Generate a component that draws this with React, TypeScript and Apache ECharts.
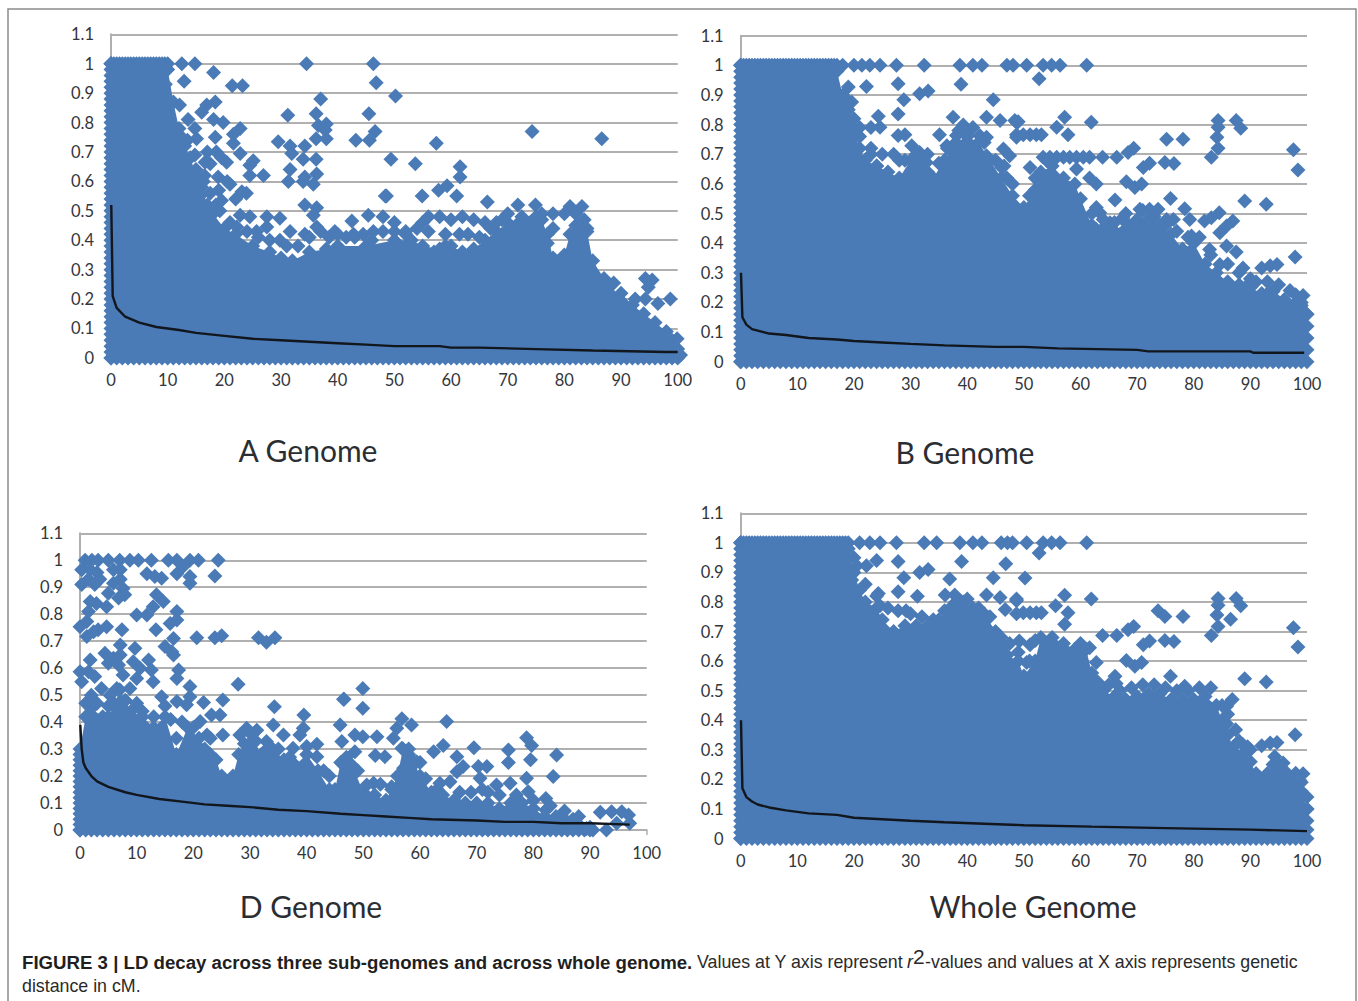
import React, { useEffect, useRef } from "react";
import * as echarts from "echarts";

const xTicks = { min: 0, max: 100, interval: 10 };
const yTicks = { min: 0, max: 1.1, interval: 0.1 };
const panelNames = ["A Genome", "B Genome", "D Genome", "Whole Genome"];

const fullLeftEdge = [0,0.02,0.04,0.06,0.08,0.1,0.12,0.14,0.16,0.18,0.2,0.22,0.24,0.26,0.28,0.3,0.32,0.34,0.36,0.38,0.4,0.42,0.44,0.46,0.48,0.5,0.52,0.54,0.56,0.58,0.6,0.62,0.64,0.66,0.68,0.7,0.72,0.74,0.76,0.78,0.8,0.82,0.84,0.86,0.88,0.9,0.92,0.94,0.96,0.98,1];
const shortLeftEdge = [0,0.02,0.04,0.06,0.08,0.1,0.12,0.14,0.16,0.18,0.2,0.22,0.24,0.26,0.28];
const bottomEdge = [0,1,2,3,4,5,6,7,8,9,10,11,12,13,14,15,16,17,18,19,20,21,22,23,24,25,26,27,28,29,30,31,32,33,34,35,36,37,38,39,40,41,42,43,44,45,46,47,48,49,50,51,52,53,54,55,56,57,58,59,60,61,62,63,64,65,66,67,68,69,70,71,72,73,74,75,76,77,78,79,80,81,82,83,84,85,86,87,88,89,90,91,92,93,94,95,96,97,98,99,100];
const topRow = [0,0.5,1,1.5,2,2.5,3,3.5,4,4.5,5,5.5,6,6.5,7,7.5,8,8.5,9,9.5,10,10.5,11,11.5,12,12.5,13,13.5,14,14.5,15,15.5,16,16.5,17,17.5,18,18.5,19];

const aSolid = [[0,1],[10,0.98],[11,0.87],[12,0.78],[13,0.72],[14,0.68],[15,0.62],[16,0.58],[17,0.52],[18,0.49],[20,0.44],[22,0.42],[25,0.38],[28,0.36],[30,0.34],[32,0.33],[35,0.36],[38,0.37],[40,0.38],[45,0.38],[50,0.4],[53,0.4],[55,0.38],[58,0.37],[60,0.38],[62,0.36],[64,0.37],[66,0.4],[68,0.43],[70,0.46],[72,0.46],[74,0.46],[76,0.47],[77,0.42],[78,0.34],[80,0.35],[81,0.42],[82,0.45],[84,0.43],[85,0.33],[87,0.27],[88,0.22],[90,0.22],[92,0.18],[94,0.15],[96,0.12],[98,0.09],[99,0.06],[100,0.03]];
const aOutliers = [[12.5,1],[14.8,1],[34.5,1],[46.3,1],[12.9,0.94],[9.6,0.93],[18.1,0.97],[21.4,0.925],[23.2,0.925],[46.8,0.935],[37,0.88],[12.1,0.86],[18.4,0.87],[16.9,0.86],[16,0.835],[31.2,0.825],[36.2,0.83],[45.5,0.83],[13.6,0.81],[18.1,0.81],[19.8,0.8],[36.6,0.79],[38,0.795],[22.8,0.78],[21.6,0.76],[14.8,0.78],[15.1,0.745],[18.4,0.75],[46.6,0.77],[37.8,0.775],[29.5,0.735],[36.2,0.745],[38,0.745],[43.2,0.74],[45.6,0.74],[21.6,0.73],[31.6,0.72],[34.2,0.72],[31.9,0.695],[22.8,0.695],[14.8,0.69],[18.6,0.7],[16.6,0.665],[20.4,0.665],[33.9,0.675],[36.2,0.675],[25.1,0.67],[24.5,0.655],[24.5,0.62],[26.9,0.62],[31.6,0.64],[34.2,0.615],[36.3,0.625],[16.3,0.6],[18.9,0.615],[21,0.59],[31.3,0.6],[33.9,0.6],[35.7,0.59],[23.1,0.565],[23.9,0.56],[48.4,0.55],[15.7,0.55],[19.5,0.535],[16.9,0.505],[19.2,0.5],[34.2,0.52],[36.3,0.51],[35.7,0.485],[27.5,0.48],[29.8,0.475],[45.4,0.485],[42.5,0.465],[22.8,0.485],[24.5,0.48],[27.5,0.445],[25.7,0.43],[22.2,0.445],[36.3,0.445],[39.5,0.43],[34.2,0.42],[31.6,0.43],[29.8,0.4],[42.8,0.42],[48,0.48],[46.3,0.43],[50.2,0.89],[49.4,0.675],[53.7,0.66],[57.4,0.73],[61.6,0.65],[61.6,0.615],[59.3,0.585],[57.8,0.57],[54.9,0.55],[61,0.55],[48.6,0.55],[66.4,0.53],[71.8,0.52],[74.9,0.52],[81,0.515],[83.1,0.515],[74.3,0.77],[86.6,0.745],[50,0.46],[52,0.42],[55,0.46],[56,0.48],[58,0.48],[60,0.47],[62,0.48],[64,0.47],[66,0.46],[67,0.44],[54,0.44],[56,0.43],[59,0.42],[61.5,0.42],[63,0.42],[65,0.41],[57,0.36],[59,0.38],[70,0.49],[72.5,0.48],[76,0.49],[78,0.49],[80,0.49],[82,0.49],[83.5,0.47],[84,0.44],[78,0.44],[77,0.39],[94.3,0.27],[95.5,0.265],[94.8,0.24],[98.7,0.2],[96.5,0.185],[94.3,0.2],[88.7,0.255],[87.2,0.235],[92.5,0.2],[99.9,0.065],[100.5,0.01],[26,0.41],[28,0.4],[31,0.38],[33,0.38],[35,0.41],[37,0.43],[38.5,0.41],[40,0.42],[41.5,0.41],[43,0.41],[44.5,0.42],[46,0.4],[48,0.43],[50,0.43],[52,0.43],[24,0.43],[21,0.46],[18.5,0.52],[17.5,0.56],[16.5,0.62],[15,0.64],[13.5,0.74],[12.5,0.75],[17,0.7],[19.5,0.68],[20.5,0.6],[22,0.54],[17.5,0.66],[19,0.57],[68,0.46],[69,0.47],[75,0.48],[73,0.46]];
const aCurve = [[0.05,0.52],[0.3,0.21],[1,0.17],[2.5,0.14],[5,0.12],[8,0.105],[12,0.095],[15,0.085],[20,0.075],[25,0.065],[30,0.06],[35,0.055],[40,0.05],[45,0.045],[50,0.04],[58,0.04],[60,0.035],[65,0.035],[75,0.03],[85,0.025],[98,0.02],[100,0.02]];

const bSolid = [[0,1],[17,0.98],[18,0.9],[19,0.85],[20,0.78],[21,0.72],[22,0.68],[24,0.66],[26,0.64],[28,0.62],[30,0.68],[32,0.68],[34,0.62],[36,0.68],[38,0.74],[40,0.76],[42,0.74],[44,0.68],[46,0.62],[48,0.56],[50,0.52],[52,0.58],[53,0.64],[55,0.66],[57,0.62],[59,0.6],[60,0.55],[62,0.46],[64,0.45],[66,0.44],[68,0.47],[70,0.48],[72,0.48],[74,0.46],[76,0.43],[78,0.38],[80,0.4],[82,0.33],[84,0.3],[86,0.27],[88,0.26],[90,0.25],[92,0.23],[94,0.24],[96,0.21],[98,0.2],[99,0.19],[100,0.16]];
const bOutliers = [[18,1],[20,1],[21.4,1],[22.8,1],[24.6,1],[27.5,1],[32.4,1],[38.7,1],[41,1],[42.6,1],[47,1],[48.1,1],[50.5,1],[53.4,1],[54.9,1],[56.4,1],[61.1,1],[52.7,0.955],[19,0.927],[22.2,0.929],[27.8,0.938],[38.9,0.936],[31.6,0.904],[33.1,0.913],[28.8,0.884],[44.6,0.884],[19.6,0.876],[24.3,0.828],[27.8,0.836],[37.5,0.825],[43.4,0.825],[45.8,0.814],[48.7,0.808],[39.3,0.799],[24.6,0.791],[21,0.79],[23,0.79],[27.8,0.763],[29,0.766],[35.1,0.766],[42.2,0.763],[43.4,0.757],[39.9,0.768],[48.7,0.757],[38.1,0.763],[36.4,0.729],[30.2,0.729],[31.6,0.706],[46.4,0.718],[47.5,0.695],[46.1,0.655],[43.4,0.695],[41.6,0.706],[32.8,0.672],[23,0.7],[25,0.7],[27,0.7],[29,0.68],[24,0.66],[33,0.64],[44,0.64],[48.4,0.814],[49,0.81],[57.2,0.825],[55.8,0.791],[57.8,0.766],[61.9,0.808],[48.7,0.766],[49.9,0.766],[51.1,0.766],[52.2,0.766],[53.1,0.766],[53.4,0.69],[54.6,0.69],[55.8,0.69],[57,0.69],[58.1,0.69],[59.3,0.69],[60.5,0.69],[61.6,0.69],[63.9,0.69],[66.4,0.69],[68.4,0.706],[69.4,0.72],[71.1,0.655],[72.2,0.67],[75.2,0.751],[78.1,0.751],[74.9,0.672],[76.5,0.669],[84.3,0.814],[84.3,0.791],[87.5,0.814],[88.3,0.788],[84.1,0.757],[84.3,0.72],[83.1,0.69],[97.6,0.715],[98.4,0.647],[89,0.542],[92.8,0.531],[75.9,0.551],[78.4,0.516],[66.1,0.546],[62.8,0.6],[61.6,0.62],[59.3,0.65],[51.1,0.655],[68.1,0.607],[69.6,0.588],[70.8,0.6],[62.8,0.52],[63.4,0.503],[70.5,0.514],[72.2,0.514],[73.7,0.514],[75.2,0.48],[76.4,0.48],[79.3,0.48],[81.9,0.475],[83.1,0.486],[84.5,0.503],[86.9,0.475],[85.8,0.458],[84.6,0.435],[67.5,0.486],[65.2,0.469],[62.8,0.446],[79.6,0.424],[85.8,0.39],[87.5,0.37],[82.8,0.379],[84.6,0.328],[88.7,0.316],[92,0.316],[93.5,0.324],[94.7,0.328],[97.9,0.353],[98,0.226],[99.3,0.223],[94,0.237],[92.8,0.226],[89.9,0.266],[87.9,0.226],[20,0.82],[19,0.88],[21,0.76],[23,0.72],[28,0.68],[31,0.7],[33,0.7],[35,0.67],[36.5,0.72],[38.5,0.78],[41,0.79],[43,0.74],[45,0.68],[46.5,0.66],[48,0.6],[47,0.62],[51,0.56],[52,0.62],[54,0.68],[62,0.5],[64,0.48],[66,0.47],[68,0.5],[71,0.51],[73,0.49],[75,0.46],[77,0.44],[79,0.42],[81,0.42],[83,0.36],[86,0.33],[88,0.3],[90,0.28],[91,0.27],[93,0.27],[95,0.26],[97,0.24],[99,0.2],[100,0.16],[100,0.12],[100,0.08],[100,0.04]];
const bCurve = [[0.05,0.3],[0.3,0.15],[1,0.125],[2,0.11],[3,0.105],[5,0.095],[8,0.09],[12,0.08],[17,0.075],[20,0.07],[25,0.065],[30,0.06],[36,0.055],[45,0.05],[50,0.05],[56,0.045],[70,0.04],[72,0.035],[90,0.035],[90.5,0.03],[99.5,0.03]];

const dSolid = [[0,0.3],[1,0.42],[2,0.45],[4,0.42],[5,0.42],[6,0.46],[7,0.52],[8,0.48],[9,0.44],[11,0.42],[13,0.38],[15,0.42],[17,0.28],[19,0.38],[21,0.34],[23,0.28],[24,0.26],[25,0.2],[27,0.2],[28,0.28],[30,0.36],[32,0.28],[34,0.3],[36,0.26],[38,0.24],[40,0.28],[42,0.22],[44,0.15],[45,0.15],[46,0.25],[48,0.24],[50,0.14],[52,0.13],[54,0.11],[55,0.15],[56,0.2],[57,0.3],[58,0.28],[59,0.25],[60,0.2],[62,0.14],[64,0.13],[66,0.11],[68,0.1],[70,0.1],[72,0.1],[74,0.08],[76,0.1],[78,0.1],[80,0.08],[82,0.05],[84,0.05],[86,0.03],[88,0.02],[90,0.01],[90.5,0]];
const dOutliers = [[0.9,1],[2.1,1],[3.2,1],[5,1],[7,1],[8.8,1],[10.3,1],[12.6,1],[15.6,1],[17.1,1],[19.4,1],[20.9,1],[24.4,1],[0.3,0.965],[1.8,0.965],[3,0.955],[5.9,0.965],[7.1,0.965],[1.5,0.93],[3.5,0.93],[7.1,0.93],[0.3,0.91],[2.6,0.91],[5.9,0.915],[7.6,0.895],[11.8,0.95],[13.2,0.94],[14.4,0.933],[17.1,0.95],[18.2,0.977],[19.4,0.94],[19.4,0.915],[23.8,0.942],[7.9,0.872],[6.8,0.86],[5,0.878],[1.8,0.847],[2.9,0.84],[4.7,0.828],[1.5,0.81],[1.2,0.773],[0,0.754],[3.2,0.742],[4.7,0.754],[7.4,0.742],[1.2,0.717],[2.4,0.735],[10,0.797],[11.8,0.797],[13.5,0.872],[14.7,0.847],[12.9,0.828],[17.1,0.81],[15.9,0.766],[17.1,0.779],[13.4,0.742],[20.6,0.713],[23.8,0.713],[25,0.72],[31.5,0.713],[32.9,0.696],[34.4,0.713],[16.5,0.71],[15,0.68],[16.2,0.661],[16.5,0.649],[7.1,0.686],[9.7,0.674],[4.4,0.655],[5.9,0.637],[7.1,0.649],[5,0.618],[6.8,0.612],[9.4,0.624],[12.1,0.63],[10.6,0.6],[1.8,0.63],[12.6,0.593],[17.4,0.593],[17.1,0.562],[19.4,0.532],[27.9,0.54],[19.4,0.494],[0,0.587],[1.5,0.587],[2.6,0.569],[0.3,0.55],[3.8,0.525],[12.9,0.55],[10,0.562],[7.6,0.575],[6.5,0.525],[8.8,0.525],[5.3,0.5],[21.8,0.473],[25.2,0.482],[24.7,0.426],[23.2,0.426],[34.3,0.457],[46.5,0.485],[39.5,0.426],[34.1,0.389],[39.4,0.377],[25.2,0.352],[41.8,0.318],[41.8,0.272],[45.9,0.389],[46.2,0.328],[14.4,0.494],[17.1,0.476],[18.8,0.464],[21.2,0.402],[22.4,0.352],[35.9,0.352],[31.2,0.37],[29.4,0.377],[28.2,0.352],[32.9,0.328],[38.8,0.352],[37.6,0.303],[49.9,0.525],[49.9,0.451],[46.6,0.485],[56.8,0.412],[58.5,0.389],[64.7,0.402],[55.3,0.34],[55.9,0.377],[48.5,0.352],[49.9,0.346],[52.4,0.346],[62.4,0.29],[64.1,0.313],[66.5,0.272],[69.5,0.305],[75.6,0.297],[75.6,0.25],[78.8,0.342],[79.7,0.313],[79.5,0.26],[84.1,0.278],[83.5,0.198],[78.8,0.192],[52.1,0.276],[53.8,0.272],[48.5,0.29],[48.4,0.225],[59.4,0.253],[56.8,0.303],[57.1,0.229],[67.6,0.235],[70.3,0.235],[71.8,0.235],[66.5,0.216],[63.5,0.173],[65.3,0.179],[70.6,0.192],[73.5,0.167],[75.9,0.173],[79.1,0.142],[82.2,0.117],[82.2,0.074],[85.5,0.07],[91.8,0.066],[95.6,0.068],[96.8,0.056],[93.8,0.068],[92.9,0],[94.7,0.025],[97,0.025],[51.8,0.173],[50.6,0.167],[89.4,0.006],[1,0.47],[2,0.5],[3,0.47],[5,0.46],[6,0.47],[8,0.48],[10,0.47],[11,0.44],[13,0.42],[15,0.46],[16,0.41],[17,0.34],[18,0.4],[20,0.38],[22,0.3],[23,0.34],[29,0.32],[31,0.33],[33,0.3],[35,0.3],[37,0.27],[40,0.31],[43,0.22],[44,0.2],[47,0.27],[49,0.22],[53,0.17],[55,0.16],[58,0.3],[60,0.25],[61,0.19],[63,0.15],[67,0.14],[69,0.14],[71,0.15],[72,0.14],[74,0.13],[77,0.13],[80,0.11],[83,0.09],[85,0.05],[87,0.04],[88,0.05]];
const dCurve = [[0.05,0.39],[0.3,0.3],[0.6,0.25],[1,0.23],[2,0.2],[3,0.18],[5,0.16],[8,0.14],[10,0.13],[14,0.115],[18,0.105],[22,0.095],[26,0.09],[30,0.085],[35,0.075],[40,0.07],[46,0.06],[50,0.055],[54,0.05],[58,0.045],[62,0.04],[70,0.035],[75,0.03],[80,0.03],[85,0.025],[90,0.025],[97,0.02]];

const wSolid = [[0,1],[19,0.98],[20,0.9],[21,0.84],[22,0.8],[24,0.78],[25,0.74],[27,0.7],[29,0.72],[31,0.72],[33,0.72],[35,0.74],[37,0.78],[39,0.8],[41,0.78],[43,0.76],[45,0.7],[47,0.62],[49,0.6],[50,0.55],[52,0.6],[53,0.68],[55,0.68],[57,0.66],[59,0.64],[60,0.66],[61,0.64],[62,0.56],[63,0.53],[64,0.5],[66,0.48],[68,0.47],[70,0.48],[72,0.49],[74,0.49],[76,0.47],[78,0.47],[80,0.47],[82,0.48],[84,0.45],[85,0.4],[86,0.35],[87,0.31],[89,0.29],[90,0.26],[91,0.22],[92,0.2],[93,0.22],[94,0.25],[96,0.23],[98,0.18],[99,0.16],[100,0.1]];
const wOutliers = [[21,1],[22.8,1],[24.6,1],[27.5,1],[32.4,1],[34.6,1],[38.7,1],[41,1],[42.6,1],[46,1],[47.1,1],[48,1],[50.5,1],[53.4,1],[54.9,1],[56.4,1],[61.1,1],[52.7,0.966],[27.8,0.937],[39,0.937],[46.8,0.929],[24,0.94],[22.2,0.923],[20.5,0.923],[31.6,0.9],[33.1,0.91],[28.8,0.882],[36.9,0.878],[44.6,0.882],[19.6,0.874],[24.3,0.829],[27.8,0.835],[31.2,0.819],[36.1,0.824],[37.8,0.824],[43.4,0.824],[45.8,0.815],[48.7,0.81],[24.6,0.787],[39.3,0.8],[27.8,0.77],[29.2,0.77],[46.7,0.775],[48.7,0.76],[44.6,0.66],[44,0.62],[46.4,0.65],[41.6,0.715],[44,0.7],[50.2,0.881],[57.2,0.823],[55.6,0.787],[57.8,0.764],[57.2,0.725],[61.9,0.81],[48.7,0.804],[49.9,0.764],[51.1,0.764],[52.2,0.764],[53.1,0.764],[63.9,0.687],[66.4,0.687],[68.4,0.706],[69.4,0.717],[71.1,0.655],[72.2,0.668],[68.1,0.602],[69.6,0.583],[70.8,0.595],[66.1,0.549],[66.3,0.524],[75.9,0.549],[78.4,0.515],[73.7,0.77],[74.9,0.751],[78.1,0.751],[74.9,0.67],[76.5,0.666],[84.3,0.812],[84.3,0.789],[87.5,0.812],[88.3,0.787],[84.1,0.756],[86.5,0.742],[84.3,0.717],[83.1,0.687],[97.6,0.713],[98.4,0.648],[89,0.54],[92.8,0.529],[86.8,0.47],[85.8,0.447],[85.8,0.388],[87.4,0.368],[84.6,0.332],[88.7,0.317],[92,0.314],[93.5,0.323],[94.7,0.325],[97.9,0.351],[98,0.221],[99.3,0.219],[94.3,0.277],[95.8,0.255],[51.1,0.655],[49.2,0.668],[50.5,0.595],[62.8,0.595],[61.6,0.645],[20,0.95],[22,0.86],[24,0.82],[26,0.78],[30,0.76],[32,0.75],[34,0.74],[36,0.77],[38,0.8],[40,0.81],[42,0.78],[44,0.75],[46,0.68],[47.5,0.66],[49,0.63],[51,0.6],[52,0.67],[65,0.52],[67,0.5],[69,0.51],[71,0.52],[73,0.52],[75,0.51],[77,0.5],[79,0.5],[81,0.51],[83,0.51],[85,0.45],[86,0.42],[88,0.33],[90,0.3],[89.5,0.31],[95,0.25],[97,0.2],[99,0.19],[100,0.14],[100,0.1],[100,0.06],[100,0.03]];
const wCurve = [[0.05,0.4],[0.3,0.17],[1,0.14],[2,0.125],[3,0.115],[5,0.105],[8,0.095],[12,0.085],[17,0.08],[20,0.07],[25,0.065],[30,0.06],[36,0.055],[43,0.05],[50,0.045],[62,0.04],[75,0.035],[90,0.03],[100,0.025]];

const BLUE = "#4a7bb7";
const GRID = "#b0b0b0";
const LABEL = "#33363b";
const grids = [
  { left: 111, top: 34.3, width: 566.7, height: 323.6 },
  { left: 740.7, top: 35.7, width: 566.3, height: 326 },
  { left: 80, top: 533.3, width: 566.7, height: 296.7 },
  { left: 740.7, top: 513.3, width: 566.3, height: 325.2 },
];
const titleAt = [[308, 450], [965, 452], [311, 906], [1033, 906]];

function panel(i: number, solid: number[][], outliers: number[][], curve: number[][], leftEdge: number[], bottomXs: number[], topXs: number[]) {
  const axisIdx = { xAxisIndex: i, yAxisIndex: i };
  const diamonds = { type: "scatter", ...axisIdx, symbol: "diamond", symbolSize: 15, clip: false, z: 3, itemStyle: { color: BLUE, opacity: 1 }, silent: true };
  return [
    { type: "line", ...axisIdx, data: solid, symbol: "none", clip: false, z: 2, lineStyle: { width: 0 }, areaStyle: { color: BLUE, opacity: 1 }, silent: true },
    { ...diamonds, data: solid },
    { ...diamonds, data: leftEdge.map((y) => [0, y]) },
    { ...diamonds, data: bottomXs.map((x) => [x, 0]) },
    { ...diamonds, data: topXs.map((x) => [x, 1]) },
    { ...diamonds, data: outliers },
    { type: "line", ...axisIdx, data: curve, symbol: "none", clip: false, z: 5, lineStyle: { color: "#12161d", width: 2.4 }, silent: true },
  ];
}

export default function App() {
  const ref = useRef<HTMLDivElement>(null);
  useEffect(() => {
    const chart = echarts.init(ref.current!, undefined, { renderer: "svg" });
    const regular = "17.8px 'Liberation Sans'";
    chart.setOption({
      animation: false,
      backgroundColor: "#ffffff",
      grid: grids.map((g) => ({ ...g, containLabel: false })),
      xAxis: grids.map((_, i) => ({
        type: "value", gridIndex: i, ...xTicks, splitLine: { show: false },
        axisLine: { onZero: false, lineStyle: { color: GRID, width: 2 } },
        axisTick: { length: 5, lineStyle: { color: GRID, width: 1.5 } },
        axisLabel: { color: LABEL, fontFamily: "Lato", fontSize: 16.5, margin: 14, showMinLabel: true, showMaxLabel: true },
      })),
      yAxis: grids.map((_, i) => ({
        type: "value", gridIndex: i, ...yTicks,
        splitLine: { show: true, lineStyle: { color: GRID, width: 2 } },
        axisLine: { show: true, onZero: false, lineStyle: { color: GRID, width: 2 } },
        axisTick: { show: false },
        axisLabel: { color: LABEL, fontFamily: "Lato", fontSize: 16.5, margin: 17, padding: [0, 0, 4, 0], showMinLabel: true, showMaxLabel: true },
      })),
      series: [
        ...panel(0, aSolid, aOutliers, aCurve, fullLeftEdge, bottomEdge, topRow.filter((x) => x <= 10)),
        ...panel(1, bSolid, bOutliers, bCurve, fullLeftEdge, bottomEdge, topRow.filter((x) => x <= 17)),
        ...panel(2, dSolid, dOutliers, dCurve, shortLeftEdge, bottomEdge.filter((x) => x <= 90), []),
        ...panel(3, wSolid, wOutliers, wCurve, fullLeftEdge, bottomEdge, topRow),
      ],
      graphic: [
        { type: "rect", shape: { x: 8, y: 9, width: 1348, height: 1010 }, style: { fill: "none", stroke: "#8c8c8c", lineWidth: 1.5 }, z: 0 },
        ...panelNames.map((t, i) => ({
          type: "text", x: titleAt[i][0], y: titleAt[i][1],
          style: { text: t, font: "30px Lato", fill: "#2a2e32", align: "center", verticalAlign: "middle" },
        })),
        { type: "text", x: 22, y: 962, style: { text: "FIGURE 3 | LD decay across three sub-genomes and across whole genome.", font: "bold 18.65px 'Liberation Sans'", fill: "#1f1f1f", verticalAlign: "middle" } },
        { type: "text", x: 697, y: 962, style: { text: "Values at Y axis represent ", font: regular, fill: "#2a2a2a", verticalAlign: "middle" } },
        { type: "text", x: 907, y: 962, style: { text: "r", font: "italic " + regular, fill: "#2a2a2a", verticalAlign: "middle" } },
        { type: "text", x: 913, y: 956, style: { text: "2", font: "21px 'Liberation Sans'", fill: "#2a2a2a", verticalAlign: "middle" } },
        { type: "text", x: 925, y: 962, style: { text: "-values and values at X axis represents genetic", font: regular, fill: "#2a2a2a", verticalAlign: "middle" } },
        { type: "text", x: 22, y: 986, style: { text: "distance in cM.", font: regular, fill: "#2a2a2a", verticalAlign: "middle" } },
      ],
    });
    return () => chart.dispose();
  }, []);
  return <div ref={ref} style={{ position: "absolute", left: 0, top: 0, width: 1358, height: 1001 }} />;
}
